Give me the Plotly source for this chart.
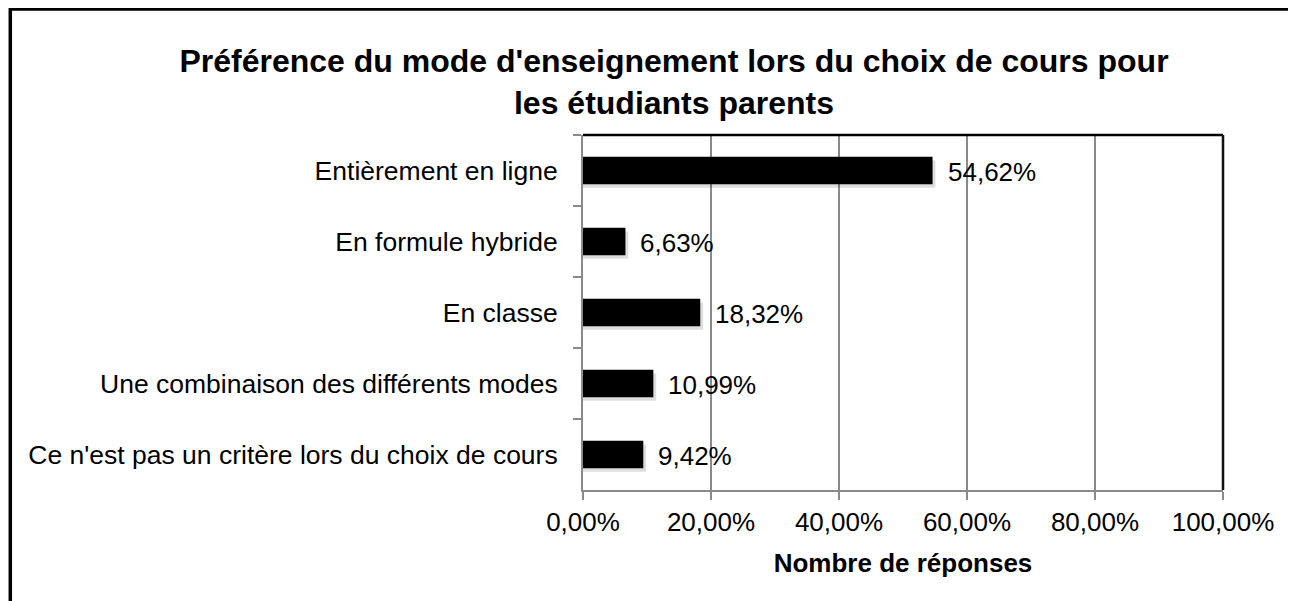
import plotly.graph_objects as go

categories = [
    "Entièrement en ligne",
    "En formule hybride",
    "En classe",
    "Une combinaison des différents modes",
    "Ce n'est pas un critère lors du choix de cours",
]
values = [54.62, 6.63, 18.32, 10.99, 9.42]
value_labels = ["54,62%", "6,63%", "18,32%", "10,99%", "9,42%"]
tick_vals = [0, 20, 40, 60, 80, 100]
tick_text = ["0,00%", "20,00%", "40,00%", "60,00%", "80,00%", "100,00%"]

title_text = ("<b>Préférence du mode d'enseignement lors du choix de cours pour<br>"
              "les étudiants parents</b>")
xaxis_title = "<b>Nombre de réponses</b>"

FONT = "Liberation Sans, Arial, Helvetica, sans-serif"
# page body has an 8px margin; figure sized to fit the window
W, H = 1288, 593
L, T = 575, 127
R = W - 1215
B = H - 482
pw, ph = W - L - R, H - T - B

def px_x(p):
    return (p - L) / pw

def px_y(p):
    return (H - B - p) / ph

bw = 0.385
fig = go.Figure()
# soft shadow
fig.add_trace(go.Bar(
    y=categories, x=[v + 0.45 for v in values], orientation="h",
    width=bw, offset=-bw / 2 + 0.05,
    marker=dict(color="rgba(0,0,0,0.13)", line=dict(width=0)),
    hoverinfo="skip", showlegend=False,
))
fig.add_trace(go.Bar(
    y=categories, x=values, orientation="h",
    width=bw, offset=-bw / 2,
    marker=dict(color="#000000", line=dict(width=0)),
    showlegend=False,
))

for c, v, t in zip(categories, values, value_labels):
    fig.add_annotation(x=v, y=c, text=t, showarrow=False, xanchor="left",
                       xshift=13, yshift=-1,
                       font=dict(family=FONT, size=26, color="#000"))

fig.update_layout(
    width=W, height=H,
    margin=dict(l=L, r=R, t=T, b=B, autoexpand=False),
    paper_bgcolor="white", plot_bgcolor="white",
    barmode="overlay",
    title=dict(text=title_text, x=666 / W, xanchor="center",
               y=1 - 64 / H, yanchor="middle",
               font=dict(family=FONT, size=32, color="#000")),
    font=dict(family=FONT, size=26, color="#000"),
    xaxis=dict(range=[0, 100], tickvals=tick_vals, ticktext=tick_text,
               showgrid=True, gridcolor="#8a8a8a", gridwidth=1.5,
               showline=True, linecolor="#8a8a8a", linewidth=2,
               ticks="outside", ticklen=8, tickcolor="#8a8a8a", tickwidth=2,
               zeroline=False,
               tickfont=dict(family=FONT, size=26, color="#000"),
               title=dict(text=xaxis_title, standoff=18,
                          font=dict(family=FONT, size=26, color="#000"))),
    yaxis=dict(type="category", categoryorder="array", categoryarray=categories,
               autorange="reversed", showgrid=False,
               showline=True, linecolor="#8a8a8a", linewidth=2,
               ticks="outside", ticklen=8, tickcolor="#8a8a8a", tickwidth=2,
               tickson="boundaries", ticklabelstandoff=18,
               tickfont=dict(family=FONT, size=26.5, color="#000")),
    shapes=[
        # plot top and right black border
        dict(type="line", xref="paper", yref="paper", x0=0, x1=1, y0=1, y1=1,
             line=dict(color="#000", width=2.5)),
        dict(type="line", xref="paper", yref="paper", x0=1, x1=1, y0=0, y1=1,
             line=dict(color="#111", width=2.5)),
        # outer frame
        dict(type="rect", xref="paper", yref="paper",
             x0=px_x(2.3), x1=px_x(1320), y0=px_y(630), y1=px_y(1),
             line=dict(color="#000", width=3.5), fillcolor="rgba(0,0,0,0)"),
    ],
)

fig.write_html("out.html")
